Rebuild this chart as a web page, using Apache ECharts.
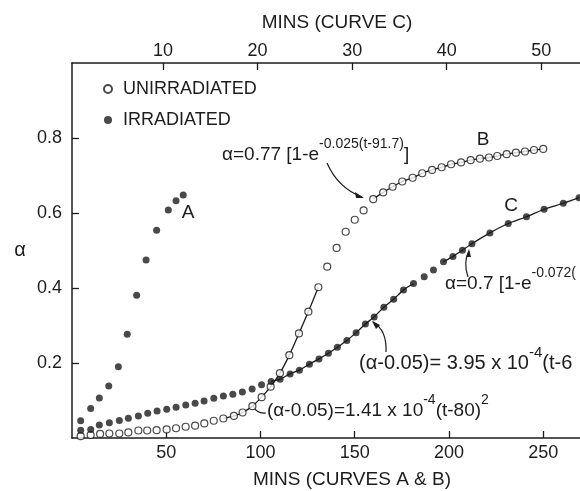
<!DOCTYPE html>
<html>
<head>
<meta charset="utf-8">
<script src="https://cdn.jsdelivr.net/npm/echarts@6/dist/echarts.min.js"></script>
<style>
  html, body { margin: 0; padding: 0; background: #fff; }
  #chart { width: 580px; height: 491px; }
</style>
</head>
<body>
<div id="chart"></div>
<script>
// curve A (irradiated), bottom axis minutes
const aMins = [4.6, 9.9, 14.5, 19.5, 24.6, 29.3, 34.3, 39.3, 44.9, 51.1, 55.2, 59.0]
const aAlpha = [0.046, 0.079, 0.107, 0.139, 0.190, 0.277, 0.381, 0.475, 0.554, 0.608, 0.633, 0.648]

// curve B (unirradiated), bottom axis minutes
const bMins = [4.6, 9.9, 14.9, 19.8, 25.1, 29.9, 35.2, 39.9, 44.9, 50.2, 55.2, 60.3, 65.3, 70.2, 75.2,
  80.3, 85.9, 90.5, 95.7, 100.6, 105.4, 110.3, 115.3, 120.4, 125.4, 130.7, 135.4, 140.4, 145.2, 150.0,
  154.7, 159.8, 165.1, 170.1, 175.2, 180.7, 185.8, 191.0, 196.1, 201.1, 206.4, 211.5, 216.4, 221.2,
  225.6, 230.6, 235.5, 240.3, 245.1, 250.0]
const bAlpha = [0.005, 0.008, 0.011, 0.012, 0.012, 0.015, 0.020, 0.020, 0.021, 0.023, 0.026, 0.030, 0.033, 0.039, 0.046,
  0.052, 0.059, 0.068, 0.085, 0.109, 0.137, 0.173, 0.221, 0.279, 0.337, 0.402, 0.457, 0.507, 0.550, 0.582,
  0.607, 0.637, 0.655, 0.670, 0.684, 0.694, 0.706, 0.715, 0.722, 0.730, 0.735, 0.741, 0.745, 0.748,
  0.752, 0.757, 0.761, 0.764, 0.768, 0.771]

// curve C (irradiated), top axis minutes
const cMins = [1.29, 2.35, 3.26, 4.32, 5.38, 6.33, 7.39, 8.38, 9.37, 10.39, 11.38, 12.40, 13.39, 14.34, 15.37,
  16.38, 17.38, 18.39, 19.42, 20.42, 21.43, 22.38, 23.44, 24.42, 25.48, 26.49, 27.49, 28.44, 29.44, 30.42,
  31.40, 32.33, 33.35, 34.39, 35.43, 36.49, 37.62, 38.60, 39.66, 40.66, 41.67, 42.67, 44.57, 46.51,
  48.44, 50.30, 52.33, 54.0]
const cAlpha = [0.021, 0.023, 0.035, 0.041, 0.047, 0.053, 0.059, 0.066, 0.072, 0.077, 0.082, 0.088, 0.093, 0.099, 0.106,
  0.112, 0.117, 0.123, 0.131, 0.142, 0.151, 0.157, 0.171, 0.181, 0.197, 0.211, 0.226, 0.242, 0.260, 0.281,
  0.304, 0.323, 0.349, 0.370, 0.395, 0.412, 0.430, 0.448, 0.470, 0.484, 0.501, 0.518, 0.547, 0.572,
  0.590, 0.610, 0.626, 0.641]

// tick labels
const bottomTicks = [50, 100, 150, 200, 250]
const topTicks = [10, 20, 30, 40, 50]
const alphaTicks = [0.2, 0.4, 0.6, 0.8]

// which points the fitted curves run through
const bFit1 = [15, 25]
const bFit2 = [31, 49]
const cFit1 = [20, 35]
const cFit2 = [38, 47]

const ink = '#1c1c1c'
const font = 'Liberation Sans'

const pairs = (xs, ys) => xs.map((x, i) => [x, ys[i]])
const part = (xs, ys, r) => pairs(xs, ys).slice(r[0], r[1] + 1)

const chart = echarts.init(document.getElementById('chart'))

const axisCommon = {
  type: 'value',
  axisLine: { lineStyle: { color: ink, width: 1.5 } },
  axisTick: { inside: true, length: 7, lineStyle: { color: ink, width: 1.3 } },
  axisLabel: { color: ink, fontFamily: font, fontSize: 18 },
  splitLine: { show: false }
}

const lineStyle = { color: ink, width: 1.3 }

const eq = (x, y, text, size) => ({
  type: 'text',
  x: x,
  y: y,
  style: {
    text: text,
    fill: ink,
    font: size + 'px ' + font,
    verticalAlign: 'middle',
    rich: {
      m: { fontSize: size, fontFamily: font, fill: ink, padding: [8, 0, 0, 0], verticalAlign: 'bottom' },
      s: { fontSize: size - 5, fontFamily: font, fill: ink, verticalAlign: 'top' }
    }
  }
})

const plain = (x, y, text, size, align) => ({
  type: 'text',
  x: x,
  y: y,
  style: { text: text, fill: ink, font: size + 'px ' + font, align: align || 'center', verticalAlign: 'middle' }
})

const curve = (x1, y1, cx, cy, x2, y2) => ({
  type: 'bezierCurve',
  shape: { x1: x1, y1: y1, cpx1: cx, cpy1: cy, x2: x2, y2: y2 },
  style: { stroke: ink, lineWidth: 1.2, fill: null }
})

const head = (pts) => ({
  type: 'polygon',
  shape: { points: pts },
  style: { fill: ink }
})

const option = {
  backgroundColor: '#fff',
  animation: false,
  grid: { left: 72, right: 0, top: 63, bottom: 53 },
  legend: {
    data: ['UNIRRADIATED', 'IRRADIATED'],
    orient: 'vertical',
    left: 98,
    top: 74,
    itemWidth: 8,
    itemHeight: 8,
    itemGap: 11,
    selectedMode: false,
    textStyle: { color: ink, fontFamily: font, fontSize: 18, lineHeight: 20, padding: [0, 0, 0, 6] }
  },
  xAxis: [
    {
      ...axisCommon,
      position: 'bottom',
      min: 0,
      max: 269.5,
      axisTick: { ...axisCommon.axisTick, customValues: bottomTicks },
      axisLabel: { ...axisCommon.axisLabel, margin: 6, customValues: bottomTicks }
    },
    {
      ...axisCommon,
      position: 'top',
      min: 0.37,
      max: 54.1,
      axisTick: { ...axisCommon.axisTick, customValues: topTicks },
      axisLabel: { ...axisCommon.axisLabel, margin: 3, customValues: topTicks }
    }
  ],
  yAxis: {
    ...axisCommon,
    min: 0,
    max: 1,
    axisTick: { ...axisCommon.axisTick, customValues: alphaTicks },
    axisLabel: { ...axisCommon.axisLabel, margin: 10, customValues: alphaTicks, formatter: v => v.toFixed(1) }
  },
  series: [
    { type: 'line', xAxisIndex: 0, data: part(bMins, bAlpha, bFit1), showSymbol: false, smooth: 0.2, lineStyle, z: 1, silent: true },
    { type: 'line', xAxisIndex: 0, data: part(bMins, bAlpha, bFit2), showSymbol: false, smooth: 0.2, lineStyle, z: 1, silent: true },
    { type: 'line', xAxisIndex: 1, data: part(cMins, cAlpha, cFit1), showSymbol: false, smooth: 0.2, lineStyle, z: 1, silent: true },
    { type: 'line', xAxisIndex: 1, data: part(cMins, cAlpha, cFit2), showSymbol: false, smooth: 0.2, lineStyle, z: 1, silent: true },
    {
      name: 'UNIRRADIATED', type: 'scatter', xAxisIndex: 0, data: pairs(bMins, bAlpha),
      symbol: 'circle', symbolSize: 7, z: 3,
      itemStyle: { color: '#fff', borderColor: ink, borderWidth: 1.2 }
    },
    {
      name: 'IRRADIATED', type: 'scatter', xAxisIndex: 0, data: pairs(aMins, aAlpha),
      symbol: 'circle', symbolSize: 7, z: 3, itemStyle: { color: ink }
    },
    {
      name: 'IRRADIATED', type: 'scatter', xAxisIndex: 1, data: pairs(cMins, cAlpha),
      symbol: 'circle', symbolSize: 7, z: 3, itemStyle: { color: ink }
    }
  ],
  graphic: [
    plain(337, 23, 'MINS (CURVE C)', 19),
    plain(352, 480, 'MINS (CURVES A & B)', 19),
    plain(20, 250, 'α', 20),
    plain(188, 213, 'A', 19),
    plain(483, 140, 'B', 19),
    plain(511, 206, 'C', 19),
    eq(222, 151, '{m|α=0.77 [1-e}{s|-0.025(t-91.7)}{m|]}', 19),
    eq(445, 280, '{m|α=0.7 [1-e}{s|-0.072(}', 19),
    eq(359, 359, '{m|(α-0.05)= 3.95 x 10}{s|-4}{m|(t-6}', 20),
    eq(267, 407, '{m|(α-0.05)=1.41 x 10}{s|-4}{m|(t-80)}{s|2}', 19),
    curve(327, 163, 338, 188, 362, 197),
    head([[364, 198], [355, 192], [356, 198]]),
    curve(468, 277, 463, 262, 469, 251),
    head([[469, 249], [466, 257], [471, 257]]),
    curve(386, 352, 387, 330, 373, 322),
    head([[372, 321], [376, 329], [380, 325]]),
    curve(253, 406, 257, 414, 266, 413)
  ]
}

chart.setOption(option)
</script>
</body>
</html>
